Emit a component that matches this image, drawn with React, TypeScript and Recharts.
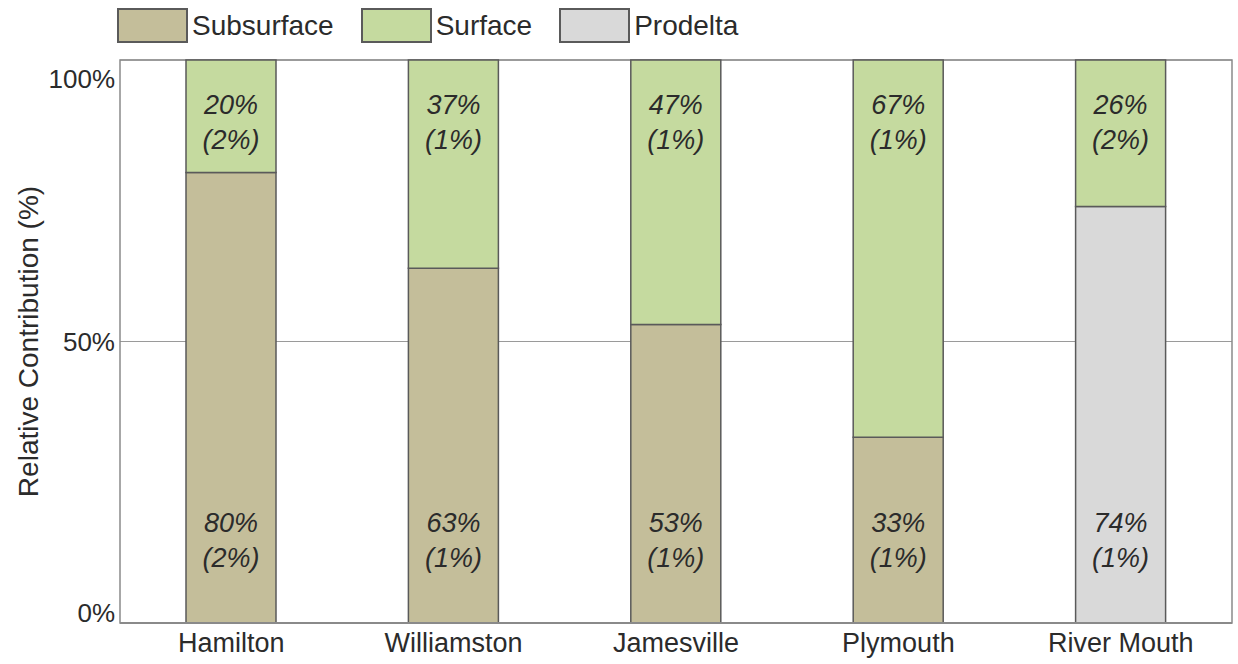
import { Bar, BarChart, CartesianGrid, LabelList, ReferenceArea, XAxis, YAxis } from "recharts";

const sites = ["Hamilton", "Williamston", "Jamesville", "Plymouth", "River Mouth"];
const subsurface = [80, 63, 53, 33, 0];
const surface = [20, 37, 47, 67, 26];
const prodelta = [0, 0, 0, 0, 74];
const subsurfaceErr = [2, 1, 1, 1, 0];
const surfaceErr = [2, 1, 1, 1, 2];
const prodeltaErr = [0, 0, 0, 0, 1];
const yTicks = [0, 50, 100];

const series = [
  { key: "Subsurface", color: "#c4be9a" },
  { key: "Surface", color: "#c5da9f" },
  { key: "Prodelta", color: "#d9d9d9" },
];

const data = sites.map((site, i) => ({
  site,
  Subsurface: subsurface[i],
  Surface: surface[i],
  Prodelta: prodelta[i],
  SubsurfaceErr: subsurfaceErr[i],
  SurfaceErr: surfaceErr[i],
  ProdeltaErr: prodeltaErr[i],
}));

const textColor = "#2b2b2b";
const font = "'Liberation Sans', Arial, sans-serif";

// value comes in as "value|error"; labels sit near top of top segment or near bottom of bottom one
const makeLabel = (atTop: boolean) => (props: any) => {
  const vb = props.viewBox || props;
  const { x, y, width, height } = vb;
  const [val, err] = String(props.value).split("|");
  if (!Number(val)) return null;
  const cx = x + width / 2;
  const y1 = atTop ? y + 45 : y + height - 100;
  return (
    <g>
      <text x={cx} y={y1} textAnchor="middle" dominantBaseline="central" fontStyle="italic" fontSize={27} fill={textColor} fontFamily={font}>
        {`${val}%`}
      </text>
      <text x={cx} y={y1 + 35} textAnchor="middle" dominantBaseline="central" fontStyle="italic" fontSize={27} fill={textColor} fontFamily={font}>
        {`(${err}%)`}
      </text>
    </g>
  );
};

const YTick = (props: any) => {
  const { x, y, payload } = props;
  const shift = payload.value === 100 ? 19 : payload.value === 0 ? -10 : 0;
  return (
    <text x={x + 3} y={y + shift} textAnchor="end" dominantBaseline="central" fontSize={26} fill={textColor} fontFamily={font}>
      {`${payload.value}%`}
    </text>
  );
};

const YLabel = (props: any) => {
  const { viewBox } = props;
  const cy = viewBox.y + viewBox.height / 2;
  return (
    <text x={28} y={cy} transform={`rotate(-90, 28, ${cy})`} textAnchor="middle" dominantBaseline="central" fontSize={28} fill={textColor} fontFamily={font}>
      Relative Contribution (%)
    </text>
  );
};

const LegendRow = () => (
  <div style={{ position: "absolute", left: 117, top: 8, display: "flex", alignItems: "center", fontFamily: font, fontSize: 28, color: textColor }}>
    {series.map((s) => (
      <div key={s.key} style={{ display: "flex", alignItems: "center", marginRight: 27 }}>
        <div style={{ width: 67, height: 31, background: s.color, border: "2px solid #5a5a5a", marginRight: 4 }} />
        <span style={{ lineHeight: "34px" }}>{s.key}</span>
      </div>
    ))}
  </div>
);

const combo = (key: string) => (d: any) => `${d[key]}|${d[key + "Err"]}`;

export default function App() {
  return (
    <div style={{ position: "relative", width: 1238, height: 664, background: "#fff" }}>
      <style>{`body{margin:0}`}</style>
      <BarChart width={1238} height={664} data={data} margin={{ top: 60, right: 6, bottom: 0, left: 0 }}>
        <CartesianGrid vertical={false} stroke="#9a9a9a" />
        <XAxis
          dataKey="site"
          height={41}
          tickLine={false}
          tickSize={0}
          tickMargin={10}
          axisLine={{ stroke: "#8a8a8a", strokeWidth: 2 }}
          tick={{ fontSize: 27, fill: textColor, fontFamily: font }}
        />
        <YAxis
          width={120}
          domain={[0, 100]}
          ticks={yTicks}
          tickLine={false}
          axisLine={false}
          tick={<YTick />}
          label={<YLabel />}
        />
        <ReferenceArea y1={0} y2={100} fill="none" stroke="#8a8a8a" strokeWidth={1.5} />
        <Bar dataKey="Subsurface" stackId="a" fill="#c4be9a" stroke="#5a5a5a" strokeWidth={1.5} barSize={90} isAnimationActive={false}>
          <LabelList dataKey={combo("Subsurface")} content={makeLabel(false)} />
        </Bar>
        <Bar dataKey="Prodelta" stackId="a" fill="#d9d9d9" stroke="#5a5a5a" strokeWidth={1.5} barSize={90} isAnimationActive={false}>
          <LabelList dataKey={combo("Prodelta")} content={makeLabel(false)} />
        </Bar>
        <Bar dataKey="Surface" stackId="a" fill="#c5da9f" stroke="#5a5a5a" strokeWidth={1.5} barSize={90} isAnimationActive={false}>
          <LabelList dataKey={combo("Surface")} content={makeLabel(true)} />
        </Bar>
      </BarChart>
      <LegendRow />
    </div>
  );
}
